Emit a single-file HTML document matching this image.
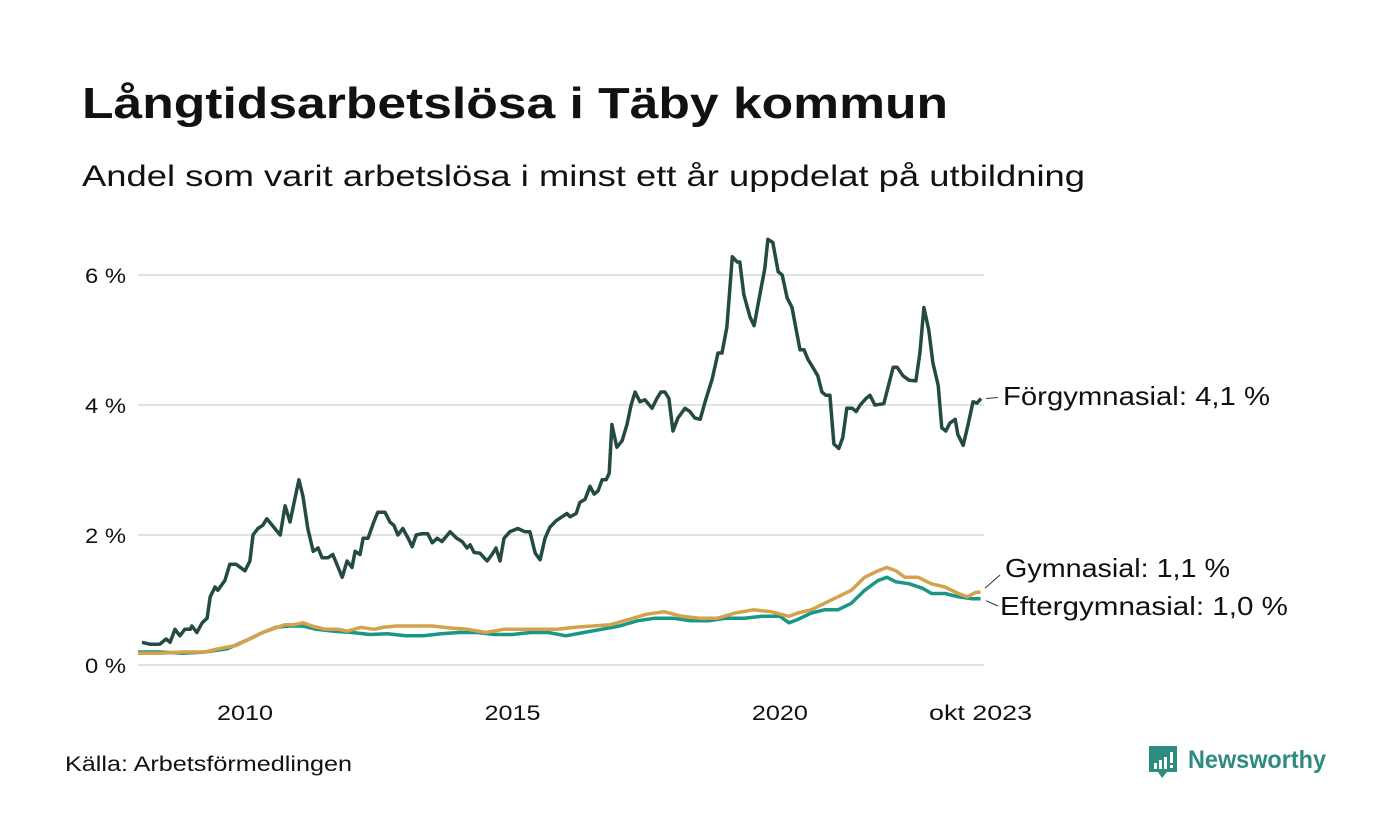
<!DOCTYPE html>
<html><head><meta charset="utf-8"><style>
body{margin:0;background:#fff;}
svg{display:block;font-family:"Liberation Sans",sans-serif;}
</style></head><body>
<svg id="chart" width="1400" height="840" viewBox="0 0 1400 840">
<text x="82" y="118" font-size="44" font-weight="bold" fill="#111" textLength="866" lengthAdjust="spacingAndGlyphs">Långtidsarbetslösa i Täby kommun</text>
<text x="82" y="186" font-size="30" fill="#111" textLength="1003" lengthAdjust="spacingAndGlyphs">Andel som varit arbetslösa i minst ett år uppdelat på utbildning</text>
<g id="grid"></g><g id="xaxis"></g><g id="lines"></g><g id="labels"></g>
<text x="65" y="771" font-size="21" fill="#111" textLength="287" lengthAdjust="spacingAndGlyphs">Källa: Arbetsförmedlingen</text>
<g>
<path d="M1149 746h28v26h-10l-5 6-4-6h-9z" fill="#2e8b80"/>
<rect x="1154" y="763" width="3" height="6" fill="#fff"/><rect x="1159" y="760" width="3" height="9" fill="#fff"/><rect x="1164" y="757" width="3" height="12" fill="#fff"/><rect x="1170" y="752" width="3" height="11" fill="#fff"/><rect x="1170" y="765" width="3" height="3" fill="#fff"/>
<text x="1188" y="768" font-size="25" font-weight="bold" fill="#2e8b80" textLength="138" lengthAdjust="spacingAndGlyphs">Newsworthy</text>
</g>
</svg>
<script>
const ticks=[0,2,4,6];
const tickLabels=["0 %","2 %","4 %","6 %"];
const yearTicks=[2010,2015,2020];
const monthsF=[0.9,2.7,4.9,6.3,7.2,8.3,9.4,10.5,11.7,12.1,13.2,14.4,15.5,16.2,17.3,17.9,19.5,20.6,22,24,25.1,25.8,26.9,28,28.9,31.9,33,34.1,36.1,37,38.1,39.3,40.4,41.3,42.6,43.7,44.9,45.8,46.9,48,48.7,49.8,50.5,51.6,52.9,53.8,55.4,56.5,57.4,58.3,59.4,60.6,61.5,62.4,63.7,65,66,67.1,68.2,70,71.5,72.7,73.8,74.5,75.4,76.7,78.3,79.4,80.3,81.2,82.1,83.4,85.2,86.8,87.9,89.1,90.2,91.3,92.4,93.8,95.1,96.2,96.9,98.3,99.1,100.3,101.4,102.3,103.2,104.1,105,105.7,106.3,107.4,108.6,109.7,110.6,111.5,112.6,113.7,115.3,116.4,117.3,118.2,119.1,120,121.1,122.7,123.8,124.9,126.1,127.2,128.8,130.1,131,132.1,133.3,134.4,135,135.9,137.3,138.2,139.5,140.6,141.3,142.4,143.6,144.5,145.6,146.7,147.8,148.5,149.4,150.3,151.2,152.5,153.4,154.3,155.2,156.1,157.2,158.1,159,160.2,161.1,162,163.3,164.2,165.3,167.3,169.4,170.3,171.6,173,174.5,175.4,176.3,177.4,178.3,179.5,180.3,181.2,182.1,183.3,183.9,185.1,186.2,187.3,188.2,189.1];
const valuesF=[.35,.32,.32,.4,.35,.55,.45,.55,.55,.6,.5,.65,.72,1.05,1.2,1.15,1.3,1.55,1.55,1.45,1.6,2.0,2.1,2.15,2.25,2.0,2.45,2.2,2.85,2.6,2.1,1.75,1.8,1.65,1.65,1.7,1.5,1.35,1.6,1.5,1.75,1.7,1.95,1.95,2.2,2.35,2.35,2.2,2.15,2.0,2.1,1.95,1.82,2.0,2.02,2.02,1.88,1.95,1.9,2.05,1.95,1.9,1.8,1.85,1.73,1.72,1.6,1.7,1.8,1.6,1.95,2.05,2.1,2.05,2.05,1.72,1.62,1.95,2.12,2.22,2.28,2.33,2.28,2.33,2.5,2.55,2.75,2.63,2.68,2.85,2.85,2.95,3.7,3.35,3.45,3.7,4.0,4.2,4.05,4.08,3.95,4.1,4.2,4.2,4.1,3.6,3.8,3.95,3.9,3.8,3.78,4.05,4.4,4.8,4.8,5.2,6.28,6.2,6.2,5.7,5.35,5.22,5.7,6.1,6.55,6.5,6.05,6.0,5.65,5.5,5.1,4.85,4.85,4.7,4.6,4.45,4.2,4.15,4.15,3.4,3.33,3.5,3.95,3.95,3.9,4.0,4.1,4.15,4.0,4.02,4.58,4.58,4.45,4.38,4.37,4.8,5.5,5.15,4.65,4.3,3.65,3.6,3.72,3.78,3.55,3.38,3.7,4.05,4.03,4.1];
const monthsG=[0,5,10,15,18,22,25,28,30,33,35,37,39,42,45,47,50,53,55,58,62,66,70,74,78,82,86,90,94,98,102,106,110,114,118,122,126,130,134,138,142,146,148,151,154,157,160,163,166,168,170,172,175,178,181,184,186,188,189];
const valuesG=[.18,.18,.2,.2,.25,.3,.4,.5,.55,.62,.62,.65,.6,.55,.55,.52,.58,.55,.58,.6,.6,.6,.57,.55,.5,.55,.55,.55,.55,.58,.6,.62,.7,.78,.82,.75,.72,.72,.8,.85,.82,.75,.8,.85,.95,1.05,1.15,1.35,1.45,1.5,1.45,1.35,1.35,1.25,1.2,1.1,1.05,1.12,1.12];
const monthsE=[0,5,10,15,20,25,28,31,34,37,40,44,48,52,56,60,64,68,72,76,80,84,88,92,96,100,104,108,112,116,120,124,128,132,136,140,144,146,148,151,154,157,160,163,166,168,170,173,176,178,181,184,187,189];
const valuesE=[.2,.2,.18,.2,.25,.4,.5,.58,.6,.6,.55,.52,.5,.47,.48,.45,.45,.48,.5,.5,.47,.47,.5,.5,.45,.5,.55,.6,.68,.72,.72,.68,.68,.72,.72,.75,.75,.65,.7,.8,.85,.85,.95,1.15,1.3,1.35,1.28,1.25,1.18,1.1,1.1,1.05,1.02,1.02];
const NS="http://www.w3.org/2000/svg";
function y(v){return 665-v*65;}
function x(m){return 138+m*4.458;}
function mk(tag,attrs,parent){const e=document.createElementNS(NS,tag);for(const k in attrs)e.setAttribute(k,attrs[k]);parent.appendChild(e);return e;}
const grid=document.getElementById('grid');
ticks.forEach((t,i)=>{
 const l=mk('line',{x1:138,x2:984,y1:y(t),y2:y(t),stroke:'#e2e2e2','stroke-width':2},grid);
 
 
 const tx=mk('text',{x:126,y:y(t)+8,'font-size':21,'text-anchor':'end',fill:'#111',textLength:41,lengthAdjust:'spacingAndGlyphs'},grid);
 tx.textContent=tickLabels[i];
 
 
});
const xa=document.getElementById('xaxis');
yearTicks.forEach(yr=>{
 const tx=mk('text',{x:x((yr-2008)*12),y:720,'font-size':21,'text-anchor':'middle',fill:'#111',textLength:56,lengthAdjust:'spacingAndGlyphs'},xa);
 tx.textContent=String(yr);
 
 
});
const lastT=mk('text',{x:x(189),y:720,'font-size':21,'text-anchor':'middle',fill:'#111',textLength:103,lengthAdjust:'spacingAndGlyphs'},xa);
lastT.textContent='okt 2023';


const lines=document.getElementById('lines');
function path(ms,vs,col,name){
 const d=ms.map((m,i)=>(i?'L':'M')+x(m).toFixed(1)+','+y(vs[i]).toFixed(1)).join('');
 const p=mk('path',{d:d,fill:'none',stroke:col,'stroke-width':3.5,'stroke-linejoin':'round'},lines);
 
 
}
path(monthsE,valuesE,'#1a9686','line-eftergymnasial');
path(monthsG,valuesG,'#d4a24c','line-gymnasial');
path(monthsF,valuesF,'#234a43','line-forgymnasial');
const lab=document.getElementById('labels');
function label(txt,lx,ly,w,x1,y1,x2,y2,name){
 const l=mk('line',{x1:x1,y1:y1,x2:x2,y2:y2,stroke:'#333','stroke-width':1},lab);
 
 
 const t=mk('text',{x:lx,y:ly,'font-size':26,fill:'#111',textLength:w,lengthAdjust:'spacingAndGlyphs'},lab);
 t.textContent=txt;
 
 
}
const fLast=valuesF[valuesF.length-1],gLast=valuesG[valuesG.length-1],eLast=valuesE[valuesE.length-1];
label('Förgymnasial: 4,1 %',1003,405,267,986,y(fLast),998,y(fLast)-1,'label-forgymnasial');
label('Gymnasial: 1,1 %',1005,577,225,985,y(gLast)-4,1000,575,'label-gymnasial');
label('Eftergymnasial: 1,0 %',1000,615,288,986,y(eLast)+2,998,606,'label-eftergymnasial');
</script>
</body></html>
